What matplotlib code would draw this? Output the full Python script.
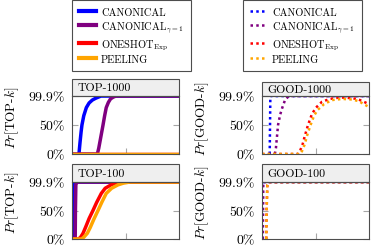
import matplotlib
matplotlib.use("Agg")
import matplotlib.pyplot as plt
from matplotlib.lines import Line2D
from matplotlib.patches import Rectangle

plt.rcParams['font.family'] = ['cmr10', 'DejaVu Serif']
plt.rcParams['mathtext.fontset'] = 'cm'
plt.rcParams['axes.formatter.use_mathtext'] = True

W, H = 374, 251

names = ["CANONICAL", r"CANONICAL$_{\gamma=1}$", r"ONESHOT$_{\mathrm{Exp}}$", "PEELING"]
colors = ["#0000ff", "#800080", "#ff0000", "#ffa500"]

# top-1000 (solid)
t1000_x = [
    [6.5, 7.5, 8.5, 9.3, 11, 13.4, 16, 19, 22, 27, 100],
    [0, 23.7, 25, 27, 29, 30.5, 32, 34, 36, 38.5, 41, 100],
    [0, 100],
    [0, 100],
]
t1000_y = [
    [0, 0.2, 0.38, 0.5, 0.66, 0.8, 0.88, 0.93, 0.96, 0.999, 0.999],
    [0, 0, 0.1, 0.3, 0.5, 0.66, 0.8, 0.89, 0.95, 0.98, 0.999, 0.999],
    [0, 0],
    [0, 0],
]

# top-100 (solid)
t100_x = [
    [0, 0.6, 0.9, 1.3, 1.8, 100],
    [0, 3, 3.2, 3.6, 4.5, 100],
    [0, 6, 8, 10.3, 13, 16, 19.6, 23, 27.4, 31, 36.5, 41, 46, 100],
    [0, 9, 11, 14.3, 17, 20.5, 24.3, 28, 32, 37, 43, 48, 54, 100],
]
t100_y = [
    [0, 0, 0.5, 0.95, 0.999, 0.999],
    [0, 0, 0.5, 0.95, 0.999, 0.999],
    [0, 0, 0.03, 0.1, 0.22, 0.36, 0.5, 0.64, 0.8, 0.89, 0.95, 0.98, 0.999, 0.999],
    [0, 0, 0.03, 0.1, 0.2, 0.35, 0.5, 0.65, 0.8, 0.89, 0.95, 0.98, 0.999, 0.999],
]

# good-1000 (dotted)
g1000_x = [
    [7.2, 7.5, 7.8, 100],
    [12, 13, 14, 15, 17, 19, 21.5, 25, 100],
    [0, 33.6, 35.5, 38, 40, 43, 46.7, 50.5, 56, 63.5, 73, 82, 89, 94, 100],
    [0, 35.5, 37.4, 40, 42, 45, 48.6, 52, 58, 65.4, 75, 84, 90.7, 95, 100],
]
g1000_y = [
    [0, 0.5, 0.999, 0.999],
    [0, 0.1, 0.3, 0.5, 0.68, 0.8, 0.93, 0.999, 0.999],
    [0, 0, 0.05, 0.17, 0.31, 0.5, 0.69, 0.8, 0.9, 0.95, 0.975, 0.965, 0.95, 0.91, 0.86],
    [0, 0, 0.05, 0.17, 0.31, 0.48, 0.66, 0.76, 0.86, 0.93, 0.95, 0.94, 0.91, 0.86, 0.81],
]

# good-100 (dotted)
g100_x = [
    [0, 0.3, 100],
    [0.8, 1.2, 100],
    [4, 4.3, 5, 6, 100],
    [4, 4.3, 5, 6, 100],
]
g100_y = [
    [0, 0.999, 0.999],
    [0, 0.999, 0.999],
    [0, 0.5, 0.95, 0.999, 0.999],
    [0, 0.5, 0.95, 0.999, 0.999],
]

yticks = [0, 0.5, 0.999]
yticklabels = ["0%", "50%", "99.9%"]

DOT = (0, (1, 1.3))

fig = plt.figure(figsize=(W / 100, H / 100), dpi=100)


def px_axes(x0, y0, x1, y1):
    return fig.add_axes([x0 / W, 1 - y1 / H, (x1 - x0) / W, (y1 - y0) / H])


def panel(ax, xs, ys, dotted, title, ylabel, box_px):
    for x, y, c in zip(xs, ys, colors):
        if dotted:
            ax.plot(x, y, color=c, lw=1.8, linestyle=DOT)
        else:
            ax.plot(x, y, color=c, lw=2.5, solid_capstyle='butt')
    ax.set_xlim(0, 100)
    ax.set_ylim(0, 1.0)
    ax.set_xticks([50])
    ax.set_xticklabels([])
    ax.set_yticks(yticks)
    ax.set_yticklabels(yticklabels, fontsize=10)
    ax.tick_params(direction='in', length=4, color='0.65', right=True, pad=5)
    for s in ax.spines.values():
        s.set_color('0.3')
        s.set_linewidth(0.8)
    pos = ax.get_position()
    hgt = pos.height * H
    frac = box_px / hgt
    ax.add_patch(Rectangle((0, 1), 1, frac, transform=ax.transAxes, clip_on=False,
                           facecolor='#efefef', edgecolor='0.3', lw=0.8))
    ax.text(0.05, 1 + frac / 2, title, transform=ax.transAxes, fontsize=8.5,
            va='center', ha='left')
    # y label centred on plot area + title box, left of the tick labels
    yc = pos.y0 + (pos.height + box_px / H) / 2
    lx = pos.x0 - 60 / W
    fig.text(lx, yc, ylabel, rotation=90, ha='center', va='center', fontsize=9.5)


ax1 = px_axes(72, 97, 179, 155)
panel(ax1, t1000_x, t1000_y, False, "TOP-1000", r"$Pr$[TOP-$k$]", 17)
ax2 = px_axes(262, 97, 369, 155)
panel(ax2, g1000_x, g1000_y, True, "GOOD-1000", r"$Pr$[GOOD-$k$]", 14)
ax3 = px_axes(72, 183, 179, 240)
panel(ax3, t100_x, t100_y, False, "TOP-100", r"$Pr$[TOP-$k$]", 18)
ax4 = px_axes(262, 183, 369, 240)
panel(ax4, g100_x, g100_y, True, "GOOD-100", r"$Pr$[GOOD-$k$]", 18)

solid_h = [Line2D([], [], color=c, lw=3) for c in colors]
dot_h = [Line2D([], [], color=c, lw=1.8, linestyle=DOT) for c in colors]
leg_kw = dict(loc='upper left', fontsize=7.5, fancybox=False, edgecolor='0.3',
              framealpha=1, borderaxespad=0, labelspacing=0.25, handletextpad=0.5,
              handlelength=1.6, borderpad=0.7)
l1 = fig.legend(solid_h, names, bbox_to_anchor=(72 / W, (H - 1) / H), **leg_kw)
l2 = fig.legend(dot_h, names, bbox_to_anchor=(243 / W, (H - 1) / H), **leg_kw)
for l in (l1, l2):
    l.get_frame().set_linewidth(0.8)

fig.savefig("out.png", dpi=100)
